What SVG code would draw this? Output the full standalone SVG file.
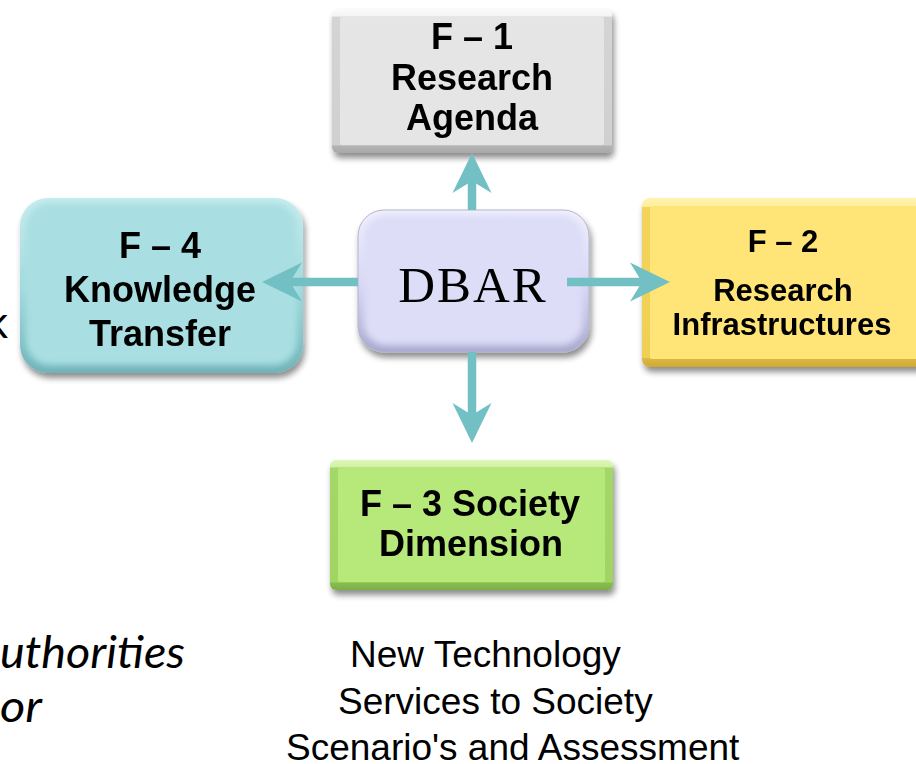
<svg xmlns="http://www.w3.org/2000/svg" width="916" height="764" viewBox="0 0 916 764">
  <defs>
    <style>
      .lbl { font-family: "Liberation Sans", Arial, sans-serif; font-weight: bold; fill: #000; text-anchor: middle; }
      .plain { font-family: "Liberation Sans", Arial, sans-serif; fill: #000; }
      .side { font-family: Lato, "Open Sans", sans-serif; fill: #000; }
      .conn { stroke: #72C0C4; stroke-width: 8.5; fill: none; marker-end: url(#head); }
    </style>
    <filter id="drop" x="-10%" y="-10%" width="125%" height="130%">
      <feGaussianBlur in="SourceAlpha" stdDeviation="3"/>
      <feOffset dx="2" dy="5" result="b"/>
      <feComponentTransfer><feFuncA type="linear" slope="0.45"/></feComponentTransfer>
      <feMerge><feMergeNode/><feMergeNode in="SourceGraphic"/></feMerge>
    </filter>
    <filter id="soft" x="-5%" y="-5%" width="110%" height="110%">
      <feGaussianBlur stdDeviation="3"/>
    </filter>
    <!-- facet gradients for the chiselled boxes -->
    <linearGradient id="gGray" x1="0" y1="0" x2="0" y2="1">
      <stop offset="0" stop-color="#FBFBFB"/><stop offset="0.05" stop-color="#F4F4F4"/>
      <stop offset="0.055" stop-color="#D4D4D4"/><stop offset="0.945" stop-color="#D0D0D0"/>
      <stop offset="0.95" stop-color="#B4B4B4"/><stop offset="1" stop-color="#A8A8A8"/>
    </linearGradient>
    <linearGradient id="gYellow" x1="0" y1="0" x2="0" y2="1">
      <stop offset="0" stop-color="#FFF3B0"/><stop offset="0.05" stop-color="#FFEE9C"/>
      <stop offset="0.055" stop-color="#F3D35A"/><stop offset="0.945" stop-color="#F0CF56"/>
      <stop offset="0.95" stop-color="#DDB840"/><stop offset="1" stop-color="#CFA935"/>
    </linearGradient>
    <linearGradient id="gGreen" x1="0" y1="0" x2="0" y2="1">
      <stop offset="0" stop-color="#DDF7B8"/><stop offset="0.055" stop-color="#D0F2A4"/>
      <stop offset="0.06" stop-color="#A3D867"/><stop offset="0.94" stop-color="#A0D564"/>
      <stop offset="0.945" stop-color="#88BE50"/><stop offset="1" stop-color="#7BAF45"/>
    </linearGradient>
    <linearGradient id="gTeal" x1="0" y1="0" x2="0" y2="1">
      <stop offset="0" stop-color="#C8ECEE"/><stop offset="0.5" stop-color="#A3DBDE"/>
      <stop offset="1" stop-color="#6FB3B8"/>
    </linearGradient>
    <linearGradient id="gLav" x1="0" y1="0" x2="0" y2="1">
      <stop offset="0" stop-color="#F0F0FE"/><stop offset="0.5" stop-color="#D8D8F6"/>
      <stop offset="1" stop-color="#A9A9CF"/>
    </linearGradient>
    <marker id="head" markerUnits="userSpaceOnUse" viewBox="-14 -22 44 44" refX="0" refY="0" markerWidth="44" markerHeight="44" orient="auto">
      <path d="M28,0 L-12,-19.5 L0,0 L-12,19.5 Z" fill="#72C0C4"/>
    </marker>
  </defs>

  <!-- text cut off at the left margin -->
  <text class="side" x="8" y="338" font-size="44" text-anchor="end">k</text>
  <text class="side" x="0" y="668" font-size="45" font-style="italic" textLength="185" lengthAdjust="spacingAndGlyphs">uthorities</text>
  <text class="side" x="0" y="722" font-size="45" font-style="italic" textLength="42" lengthAdjust="spacingAndGlyphs">or</text>

  <g id="f1" filter="url(#drop)">
    <rect x="332" y="9" width="280" height="144" rx="6" fill="url(#gGray)"/>
    <rect x="340" y="17" width="264" height="128" rx="2" fill="#E5E5E5"/>
    <text class="lbl" x="472" y="49" font-size="36">F – 1</text>
    <text class="lbl" x="472" y="90" font-size="36">Research</text>
    <text class="lbl" x="472" y="130" font-size="36">Agenda</text>
  </g>

  <g id="f2" filter="url(#drop)">
    <rect x="642" y="198" width="300" height="169" rx="8" fill="url(#gYellow)"/>
    <rect x="650" y="206" width="300" height="153" rx="2" fill="#FFE577"/>
    <text class="lbl" x="783" y="252" font-size="31">F – 2</text>
    <text class="lbl" x="783" y="301" font-size="31">Research</text>
    <text class="lbl" x="782" y="335" font-size="31">Infrastructures</text>
  </g>

  <g id="f3" filter="url(#drop)">
    <rect x="330" y="460" width="283" height="130" rx="6" fill="url(#gGreen)"/>
    <rect x="338" y="468" width="267" height="114" rx="2" fill="#B6E87A"/>
    <text class="lbl" x="470" y="516" font-size="36">F – 3 Society</text>
    <text class="lbl" x="471" y="556" font-size="36">Dimension</text>
  </g>

  <g id="f4" filter="url(#drop)">
    <rect x="20" y="198" width="283" height="175" rx="28" fill="url(#gTeal)"/>
    <rect x="26" y="203" width="271" height="162" rx="24" fill="#A9DFE2" filter="url(#soft)"/>
    <text class="lbl" x="160" y="258" font-size="36">F – 4</text>
    <text class="lbl" x="160" y="302" font-size="36">Knowledge</text>
    <text class="lbl" x="160" y="346" font-size="36">Transfer</text>
  </g>

  <g id="dbar" filter="url(#drop)">
    <rect x="358" y="210" width="231" height="142" rx="26" fill="url(#gLav)" stroke="#B3B3C8" stroke-width="1"/>
    <rect x="364" y="215" width="219" height="130" rx="22" fill="#DDDDF8" filter="url(#soft)"/>
    <text x="473" y="302" font-family="'Liberation Serif', 'Times New Roman', serif" font-size="51" letter-spacing="2" text-anchor="middle" fill="#000">DBAR</text>
  </g>

  <!-- arrows from DBAR, drawn over the boxes -->
  <g id="connectors">
    <line class="conn" x1="472" y1="210" x2="472" y2="181"/>
    <line class="conn" x1="567" y1="282" x2="642" y2="282"/>
    <line class="conn" x1="472" y1="352" x2="472" y2="415"/>
    <line class="conn" x1="358" y1="282" x2="290" y2="282"/>
  </g>

  <!-- captions under the society box -->
  <text class="plain" x="350" y="667" font-size="37">New Technology</text>
  <text class="plain" x="338" y="714" font-size="37">Services to Society</text>
  <text class="plain" x="286" y="760" font-size="37">Scenario's and Assessment</text>
</svg>
